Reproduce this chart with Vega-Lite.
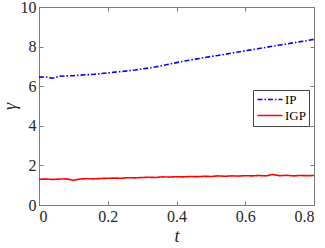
{
  "$schema": "https://vega.github.io/schema/vega-lite/v6.json",
  "width": 275,
  "height": 198,
  "autosize": {"type": "none"},
  "padding": {"left": 39, "top": 7, "right": 11, "bottom": 43},
  "background": "white",
  "config": {
    "font": "Liberation Serif",
    "view": {"stroke": "#7a7a7a", "strokeWidth": 1},
    "axis": {
      "labelFont": "Liberation Serif",
      "titleFont": "Liberation Serif",
      "labelFontSize": 16,
      "labelColor": "#262626",
      "titleColor": "#262626",
      "domainColor": "#7a7a7a",
      "tickColor": "#7a7a7a",
      "grid": false
    },
    "legend": {
      "labelFont": "Liberation Serif"
    }
  },
  "data": {
    "values": [
      {"t": 0.00, "g": 6.46, "s": "IP"}, {"t": 0.02, "g": 6.47, "s": "IP"}, {"t": 0.04, "g": 6.40, "s": "IP"},
      {"t": 0.06, "g": 6.50, "s": "IP"}, {"t": 0.08, "g": 6.52, "s": "IP"}, {"t": 0.10, "g": 6.53, "s": "IP"},
      {"t": 0.12, "g": 6.56, "s": "IP"}, {"t": 0.14, "g": 6.58, "s": "IP"}, {"t": 0.16, "g": 6.60, "s": "IP"},
      {"t": 0.18, "g": 6.64, "s": "IP"}, {"t": 0.20, "g": 6.67, "s": "IP"}, {"t": 0.22, "g": 6.71, "s": "IP"},
      {"t": 0.24, "g": 6.74, "s": "IP"}, {"t": 0.26, "g": 6.78, "s": "IP"}, {"t": 0.28, "g": 6.82, "s": "IP"},
      {"t": 0.30, "g": 6.87, "s": "IP"}, {"t": 0.32, "g": 6.92, "s": "IP"}, {"t": 0.34, "g": 6.98, "s": "IP"},
      {"t": 0.36, "g": 7.04, "s": "IP"}, {"t": 0.38, "g": 7.12, "s": "IP"}, {"t": 0.40, "g": 7.19, "s": "IP"},
      {"t": 0.42, "g": 7.26, "s": "IP"}, {"t": 0.44, "g": 7.32, "s": "IP"}, {"t": 0.46, "g": 7.38, "s": "IP"},
      {"t": 0.48, "g": 7.44, "s": "IP"}, {"t": 0.50, "g": 7.50, "s": "IP"}, {"t": 0.52, "g": 7.55, "s": "IP"},
      {"t": 0.54, "g": 7.61, "s": "IP"}, {"t": 0.56, "g": 7.67, "s": "IP"}, {"t": 0.58, "g": 7.73, "s": "IP"},
      {"t": 0.60, "g": 7.79, "s": "IP"}, {"t": 0.62, "g": 7.84, "s": "IP"}, {"t": 0.64, "g": 7.90, "s": "IP"},
      {"t": 0.66, "g": 7.96, "s": "IP"}, {"t": 0.68, "g": 8.02, "s": "IP"}, {"t": 0.70, "g": 8.08, "s": "IP"},
      {"t": 0.72, "g": 8.13, "s": "IP"}, {"t": 0.74, "g": 8.19, "s": "IP"}, {"t": 0.76, "g": 8.25, "s": "IP"},
      {"t": 0.78, "g": 8.30, "s": "IP"}, {"t": 0.80, "g": 8.37, "s": "IP"},
      {"t": 0.00, "g": 1.30, "s": "IGP"}, {"t": 0.02, "g": 1.31, "s": "IGP"}, {"t": 0.04, "g": 1.29, "s": "IGP"},
      {"t": 0.06, "g": 1.31, "s": "IGP"}, {"t": 0.08, "g": 1.32, "s": "IGP"}, {"t": 0.10, "g": 1.25, "s": "IGP"},
      {"t": 0.12, "g": 1.31, "s": "IGP"}, {"t": 0.14, "g": 1.33, "s": "IGP"}, {"t": 0.16, "g": 1.32, "s": "IGP"},
      {"t": 0.18, "g": 1.34, "s": "IGP"}, {"t": 0.20, "g": 1.35, "s": "IGP"}, {"t": 0.22, "g": 1.36, "s": "IGP"},
      {"t": 0.24, "g": 1.35, "s": "IGP"}, {"t": 0.26, "g": 1.38, "s": "IGP"}, {"t": 0.28, "g": 1.37, "s": "IGP"},
      {"t": 0.30, "g": 1.39, "s": "IGP"}, {"t": 0.32, "g": 1.40, "s": "IGP"}, {"t": 0.34, "g": 1.39, "s": "IGP"},
      {"t": 0.36, "g": 1.42, "s": "IGP"}, {"t": 0.38, "g": 1.41, "s": "IGP"}, {"t": 0.40, "g": 1.43, "s": "IGP"},
      {"t": 0.42, "g": 1.42, "s": "IGP"}, {"t": 0.44, "g": 1.44, "s": "IGP"}, {"t": 0.46, "g": 1.43, "s": "IGP"},
      {"t": 0.48, "g": 1.45, "s": "IGP"}, {"t": 0.50, "g": 1.44, "s": "IGP"}, {"t": 0.52, "g": 1.47, "s": "IGP"},
      {"t": 0.54, "g": 1.45, "s": "IGP"}, {"t": 0.56, "g": 1.47, "s": "IGP"}, {"t": 0.58, "g": 1.46, "s": "IGP"},
      {"t": 0.60, "g": 1.48, "s": "IGP"}, {"t": 0.62, "g": 1.47, "s": "IGP"}, {"t": 0.64, "g": 1.49, "s": "IGP"},
      {"t": 0.66, "g": 1.47, "s": "IGP"}, {"t": 0.68, "g": 1.54, "s": "IGP"}, {"t": 0.70, "g": 1.48, "s": "IGP"},
      {"t": 0.72, "g": 1.50, "s": "IGP"}, {"t": 0.74, "g": 1.47, "s": "IGP"}, {"t": 0.76, "g": 1.49, "s": "IGP"},
      {"t": 0.78, "g": 1.48, "s": "IGP"}, {"t": 0.80, "g": 1.49, "s": "IGP"}
    ]
  },
  "layer": [
    {
      "mark": {"type": "line", "strokeWidth": 1.6},
      "encoding": {
        "x": {
          "field": "t", "type": "quantitative",
          "scale": {"domain": [0, 0.8], "nice": false},
          "axis": {"values": [0, 0.2, 0.4, 0.6, 0.8], "format": "~g", "tickSize": -4, "labelPadding": 7,
                   "labelFont": "Liberation Serif", "titleFont": "Liberation Serif", "labelFontSize": 16,
                   "title": "t", "titleFontStyle": "italic", "titleFontWeight": "normal", "titleFontSize": 18, "titlePadding": 3}
        },
        "y": {
          "field": "g", "type": "quantitative",
          "scale": {"domain": [0, 10], "nice": false},
          "axis": {"values": [0, 2, 4, 6, 8, 10], "tickSize": -4, "labelPadding": 7,
                   "labelFont": "Liberation Serif", "titleFont": "Liberation Serif", "labelFontSize": 16,
                   "title": "γ", "titleFontStyle": "italic", "titleFontWeight": "normal", "titleFontSize": 18, "titlePadding": 1}
        },
        "color": {
          "field": "s", "type": "nominal",
          "scale": {"domain": ["IP", "IGP"], "range": ["#0000ff", "#ff0000"]},
          "legend": {
            "title": null, "orient": "none", "legendX": 214, "legendY": 83,
            "symbolType": "M-1,0H4", "symbolSize": 100, "symbolStrokeWidth": 1.6,
            "labelFont": "Liberation Serif", "labelFontSize": 13, "labelColor": "#000",
            "strokeColor": "#444", "fillColor": "white", "padding": 3, "rowPadding": 2, "labelOffset": 16
          }
        },
        "strokeDash": {
          "field": "s", "type": "nominal",
          "scale": {"domain": ["IP", "IGP"], "range": [[5, 2, 1.5, 2], [1, 0]]},
          "legend": {
            "title": null, "orient": "none", "legendX": 214, "legendY": 83,
            "symbolType": "M-1,0H4", "symbolSize": 100, "symbolStrokeWidth": 1.6,
            "labelFont": "Liberation Serif", "labelFontSize": 13, "labelColor": "#000",
            "strokeColor": "#444", "fillColor": "white", "padding": 3, "rowPadding": 2, "labelOffset": 16
          }
        }
      }
    },
    {
      "mark": {"type": "point", "opacity": 0},
      "encoding": {
        "x": {"field": "t", "type": "quantitative",
              "axis": {"orient": "top", "values": [0, 0.2, 0.4, 0.6, 0.8], "labels": false, "domain": false, "tickSize": -4, "title": null}},
        "y": {"field": "g", "type": "quantitative",
              "axis": {"orient": "right", "values": [0, 2, 4, 6, 8, 10], "labels": false, "domain": false, "tickSize": -4, "title": null}}
      }
    }
  ],
  "resolve": {"axis": {"x": "independent", "y": "independent"}}
}
